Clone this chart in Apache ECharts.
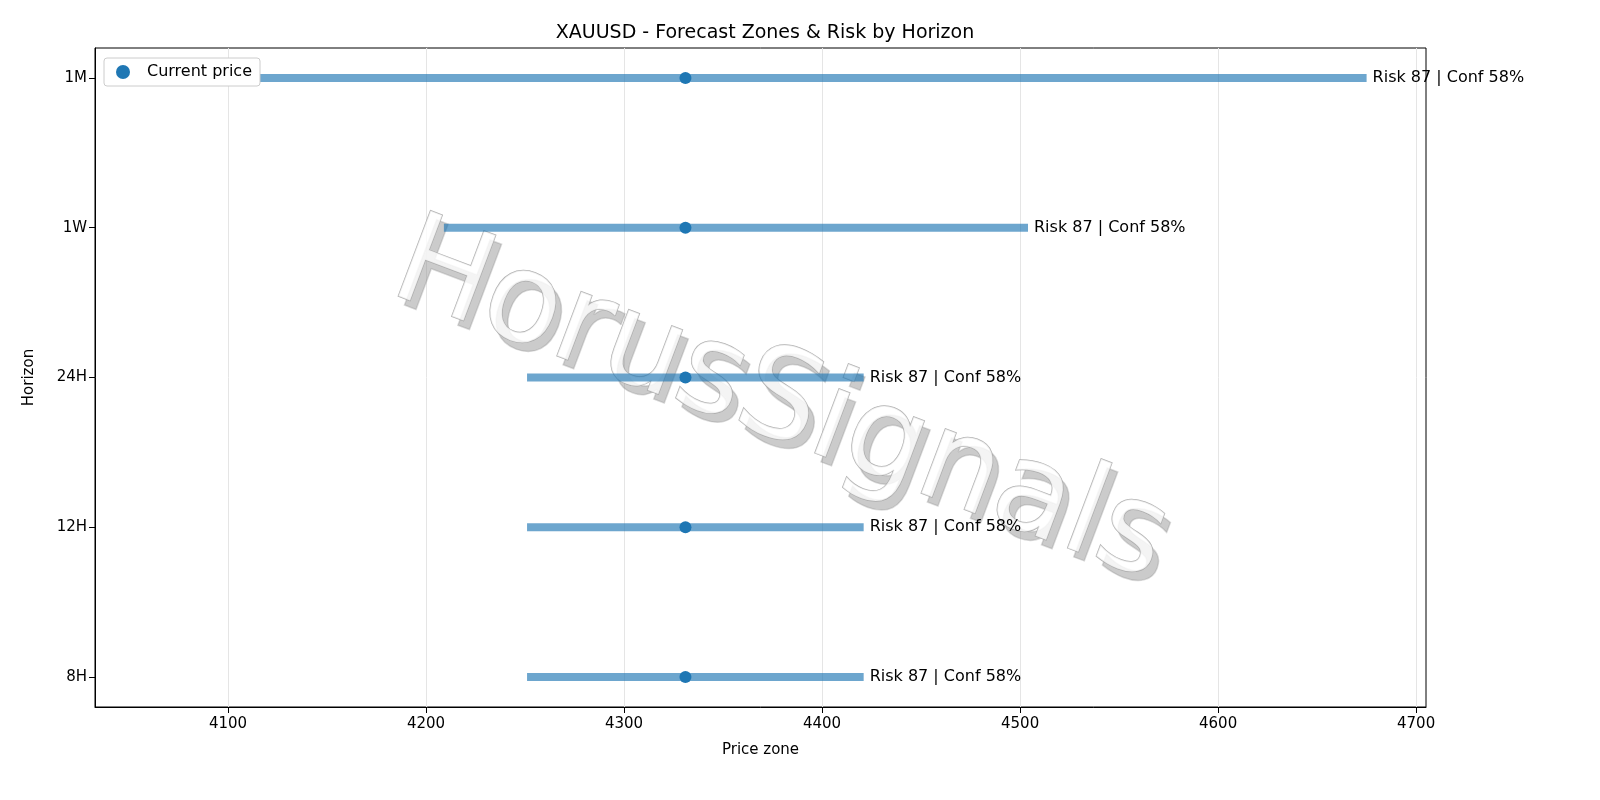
<!DOCTYPE html>
<html><head><meta charset="utf-8">
<script src="https://cdn.jsdelivr.net/npm/echarts@6/dist/echarts.min.js"></script>
<style>html,body{margin:0;background:#fff}#c{width:1600px;height:800px}</style>
</head><body><div id="c"></div>
<script>
const horizons = ['8H','12H','24H','1W','1M'];
const zoneLow  = [4251, 4251, 4251, 4209, 4063];
const zoneHigh = [4421, 4421, 4421, 4504, 4675];
const currentPrice = [4331, 4331, 4331, 4331, 4331];
const zoneLabels = ['Risk 87 | Conf 58%','Risk 87 | Conf 58%','Risk 87 | Conf 58%','Risk 87 | Conf 58%','Risk 87 | Conf 58%'];
const xTicks = [4100,4200,4300,4400,4500,4600,4700];

const chart = echarts.init(document.getElementById('c'));
const font = 'DejaVu Sans';
const wm = (dx,dy,fill,stroke,z)=>({type:'text',z:z,rotation:-0.36,position:[780+dx,405+dy],silent:true,
    style:{text:'HorusSignals',fontSize:125,fontFamily:font,fill:fill,stroke:stroke,lineWidth:1.5,
      textAlign:'center',textVerticalAlign:'middle'}});
chart.setOption({
  animation:false,
  textStyle:{fontFamily:font},
  title:{text:'XAUUSD - Forecast Zones & Risk by Horizon',left:760,top:19,textAlign:'center',
    textStyle:{fontFamily:font,fontSize:19,fontWeight:'normal',color:'#000'}},
  grid:{left:95,right:174,top:48,bottom:93,outerBoundsMode:'none',containLabel:false,
    show:true,borderColor:'#000',borderWidth:1,backgroundColor:'transparent'},
  xAxis:{type:'value',min:4032.8,max:4705,name:'Price zone',nameLocation:'middle',nameGap:36,
    nameTextStyle:{fontSize:15,color:'#000'},
    axisLine:{show:true,onZero:false,lineStyle:{color:'#000'}},
    axisTick:{show:true,inside:false,length:6,customValues:xTicks,lineStyle:{color:'#000'}},
    axisLabel:{customValues:xTicks,fontSize:15,color:'#000',margin:10,formatter:v=>String(v)},
    splitLine:{show:true,lineStyle:{color:'#e5e5e5'}}},
  yAxis:{type:'value',min:-0.2,max:4.2,name:'Horizon',nameLocation:'middle',nameGap:58,
    nameTextStyle:{fontSize:15,color:'#000'},
    axisLine:{show:true,onZero:false,lineStyle:{color:'#000'}},
    axisTick:{show:true,length:6,customValues:[0,1,2,3,4],lineStyle:{color:'#000'}},
    axisLabel:{customValues:[0,1,2,3,4],fontSize:15,color:'#000',formatter:v=>horizons[Math.round(v)]||''},
    splitLine:{show:false}},
  legend:{left:104,top:58,orient:'vertical',itemWidth:14,itemHeight:14,itemGap:0,
    backgroundColor:'#fff',borderColor:'#ccc',borderWidth:1,borderRadius:3,padding:[6,8,6,12],
    textStyle:{fontSize:16,color:'#000',padding:[0,0,0,12]},data:[{name:'Current price',icon:'circle'}]},
  graphic:[wm(6,9,'rgba(140,140,140,0.45)','rgba(140,140,140,0.3)',1),
           wm(0,0,'rgba(255,255,255,0.8)','rgba(170,170,170,0.9)',2)],
  series:[
    {type:'custom',name:'zones',z:3,
     data:horizons.map((h,i)=>[zoneLow[i],zoneHigh[i],i]),
     renderItem:(params,api)=>{
       const a=api.coord([api.value(0),api.value(2)]), b=api.coord([api.value(1),api.value(2)]);
       return {type:'group',children:[
         {type:'line',shape:{x1:a[0],y1:a[1],x2:b[0],y2:b[1]},style:{stroke:'rgba(31,119,180,0.65)',lineWidth:8}},
         {type:'text',style:{text:zoneLabels[params.dataIndex],x:b[0]+6,y:b[1],textVerticalAlign:'middle',fontSize:16,fontFamily:font,fill:'#000'}}
       ]};
     }},
    {type:'scatter',name:'Current price',symbolSize:12,z:4,itemStyle:{color:'#1f77b4',opacity:1},
     data:horizons.map((h,i)=>[currentPrice[i],i])}
  ]
});
</script></body></html>
